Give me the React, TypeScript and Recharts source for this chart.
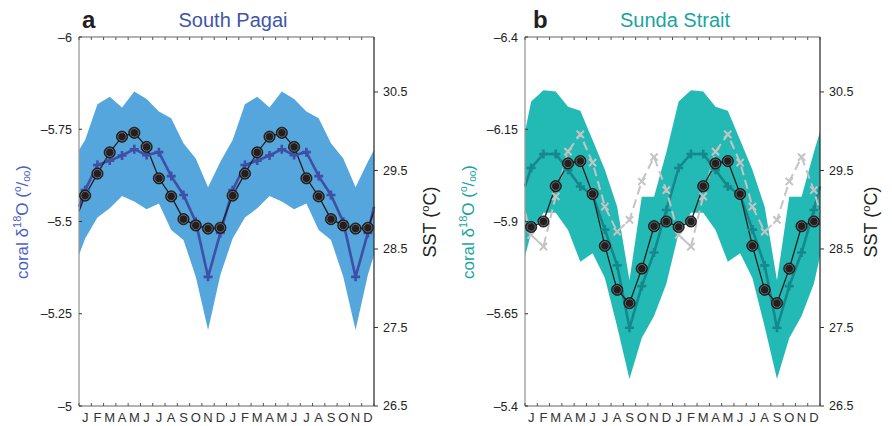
import React from "react";
import { ComposedChart, Area, Line, XAxis, YAxis } from "recharts";

const months = ["J", "F", "M", "A", "M", "J", "J", "A", "S", "O", "N", "D"];
const monthTicks = Array.from({ length: 25 }, (_, i) => i);
const sstTicks = [26.5, 27.5, 28.5, 29.5, 30.5];
const sstDomain = [26.5, 31.2];

// panel a: South Pagai
const pagaiCoral = [-5.585, -5.653, -5.665, -5.679, -5.696, -5.68, -5.688, -5.623, -5.572, -5.499, -5.35, -5.469];
const pagaiUpper = [-5.721, -5.818, -5.838, -5.809, -5.852, -5.832, -5.798, -5.78, -5.712, -5.671, -5.593, -5.662];
const pagaiLower = [-5.454, -5.511, -5.536, -5.569, -5.554, -5.533, -5.549, -5.477, -5.45, -5.35, -5.206, -5.355];
const pagaiSst = [29.18, 29.46, 29.73, 29.93, 29.98, 29.8, 29.4, 29.17, 28.88, 28.8, 28.76, 28.77];
const pagaiEdge = { coral: -5.54, upper: -5.694, lower: -5.409, sst: 28.98 };
const pagaiTicks = [-6, -5.75, -5.5, -5.25, -5];

// panel b: Sunda Strait
const sundaCoral = [-6.045, -6.083, -6.083, -6.04, -5.995, -5.972, -5.878, -5.781, -5.612, -5.725, -5.816, -5.931];
const sundaUpper = [-6.225, -6.256, -6.252, -6.211, -6.2, -6.121, -6.04, -5.94, -5.741, -5.967, -5.967, -6.088];
const sundaLower = [-5.869, -5.924, -5.924, -5.877, -5.791, -5.814, -5.747, -5.615, -5.473, -5.584, -5.644, -5.731];
const sundaSst = [28.78, 28.85, 29.3, 29.59, 29.62, 29.2, 28.54, 27.98, 27.81, 28.25, 28.79, 28.85];
const sundaSstAlt = [28.68, 28.53, 29.17, 29.74, 29.96, 29.6, 29.04, 28.72, 28.87, 29.36, 29.67, 29.25];
const sundaEdge = { coral: -5.995, upper: -6.143, lower: -5.805, sst: 28.81, sstAlt: 28.97 };
const sundaTicks = [-6.4, -6.15, -5.9, -5.65, -5.4];

const FONT = "'Liberation Sans', Arial, Helvetica, sans-serif";
const HALF_MONTH = (446 - 79 - 72) / 48;

function buildRows(coral: number[], upper: number[], lower: number[], sst: number[], edge: any, sstAlt?: number[]) {
  const edgeRow = (x: number) => ({
    x,
    edge: true,
    coral: edge.coral,
    band: [edge.lower, edge.upper],
    sst: edge.sst,
    sstAlt: sstAlt ? edge.sstAlt : undefined,
  });
  const rows: any[] = [edgeRow(0)];
  for (let k = 0; k < 24; k++) {
    const m = k % 12;
    rows.push({
      x: k + 0.5,
      coral: coral[m],
      band: [lower[m], upper[m]],
      sst: sst[m],
      sstAlt: sstAlt ? sstAlt[m] : undefined,
    });
  }
  rows.push(edgeRow(24));
  return rows;
}

const pagaiRows = buildRows(pagaiCoral, pagaiUpper, pagaiLower, pagaiSst, pagaiEdge);
const sundaRows = buildRows(sundaCoral, sundaUpper, sundaLower, sundaSst, sundaEdge, sundaSstAlt);

const plusDot = (color: string) => (p: any) => {
  const { cx, cy, payload, index } = p;
  if (!payload || payload.edge || cx == null || cy == null) return <g key={`p${index}`} />;
  return (
    <path
      key={`p${index}`}
      d={`M${cx - 4.5},${cy}H${cx + 4.5}M${cx},${cy - 4.5}V${cy + 4.5}`}
      stroke={color}
      strokeWidth={2.6}
      fill="none"
    />
  );
};

const crossDot = (p: any) => {
  const { cx, cy, payload, index } = p;
  if (!payload || payload.edge || cx == null || cy == null) return <g key={`x${index}`} />;
  const s = 3.6;
  return (
    <path
      key={`x${index}`}
      d={`M${cx - s},${cy - s}L${cx + s},${cy + s}M${cx - s},${cy + s}L${cx + s},${cy - s}`}
      stroke="#c4c4c4"
      strokeWidth={2}
      fill="none"
    />
  );
};

const circleDot = (p: any) => {
  const { cx, cy, payload, index } = p;
  if (!payload || payload.edge || cx == null || cy == null) return <g key={`c${index}`} />;
  return (
    <g key={`c${index}`}>
      <circle cx={cx} cy={cy} r={5.6} fill="#231f20" stroke="#111" strokeWidth={0.8} />
      <circle cx={cx} cy={cy} r={4.2} fill="none" stroke="#8a8a8a" strokeWidth={0.7} />
    </g>
  );
};

function BottomTick(props: any) {
  const { x, y, payload } = props;
  const v = payload.value;
  return (
    <g>
      <line x1={x} y1={y} x2={x} y2={y - 3} stroke="#555" strokeWidth={1} />
      {v < 24 && (
        <text x={x + HALF_MONTH} y={y + 16} textAnchor="middle" fontSize={13} fill="#333" fontFamily={FONT}>
          {months[v % 12]}
        </text>
      )}
    </g>
  );
}

function TopTick(props: any) {
  const { x, y } = props;
  return <line x1={x} y1={y} x2={x} y2={y + 3} stroke="#555" strokeWidth={1} />;
}

function LeftTick(props: any) {
  const { x, y, payload } = props;
  return (
    <g>
      <line x1={x} y1={y} x2={x + 3} y2={y} stroke="#333" strokeWidth={1} />
      <text x={x - 7} y={y} dy="0.36em" textAnchor="end" fontSize={12.5} fill="#222" fontFamily={FONT}>
        {String(payload.value).replace("-", "\u2013")}
      </text>
    </g>
  );
}

function Panel(props: {
  rows: any[];
  ticks: number[];
  bandColor: string;
  lineColor: string;
  showAlt?: boolean;
}) {
  const { rows, ticks, bandColor, lineColor, showAlt } = props;
  return (
    <ComposedChart width={446} height={426} data={rows} margin={{ top: 36, right: 0, bottom: 0, left: 0 }}>
      <XAxis
        xAxisId="b"
        dataKey="x"
        type="number"
        domain={[0, 24]}
        ticks={monthTicks}
        interval={0}
        height={20}
        tickSize={0}
        tickMargin={0}
        tickLine={false}
        tick={<BottomTick />}
        axisLine={{ stroke: "#999", strokeWidth: 1.3 }}
      />
      <XAxis
        xAxisId="t"
        orientation="top"
        dataKey="x"
        type="number"
        domain={[0, 24]}
        ticks={monthTicks}
        interval={0}
        height={1}
        tickSize={0}
        tickMargin={0}
        tickLine={false}
        tick={<TopTick />}
        axisLine={{ stroke: "#999", strokeWidth: 1.3 }}
      />
      <YAxis
        yAxisId="d"
        width={79}
        domain={[ticks[0], ticks[ticks.length - 1]]}
        reversed
        ticks={ticks}
        interval={0}
        tickSize={0}
        tickMargin={0}
        tickLine={false}
        tick={<LeftTick />}
        axisLine={{ stroke: "#999", strokeWidth: 1.3 }}
        allowDataOverflow
      />
      <YAxis
        yAxisId="s"
        orientation="right"
        width={72}
        domain={sstDomain}
        ticks={sstTicks}
        interval={0}
        tickSize={4}
        tickMargin={5}
        tickLine={{ stroke: "#333" }}
        tick={{ fontSize: 12.5, fill: "#222", fontFamily: FONT }}
        axisLine={{ stroke: "#333", strokeWidth: 1.3 }}
        allowDataOverflow
      />
      <Area
        xAxisId="b"
        yAxisId="d"
        dataKey="band"
        type="linear"
        fill={bandColor}
        fillOpacity={1}
        stroke="none"
        dot={false}
        activeDot={false}
        isAnimationActive={false}
      />
      <Line
        xAxisId="b"
        yAxisId="d"
        dataKey="coral"
        type="linear"
        stroke={lineColor}
        strokeWidth={2.6}
        dot={plusDot(lineColor)}
        activeDot={false}
        isAnimationActive={false}
      />
      {showAlt && (
        <Line
          xAxisId="b"
          yAxisId="s"
          dataKey="sstAlt"
          type="linear"
          stroke="#c4c4c4"
          strokeWidth={2}
          strokeDasharray="9 5"
          dot={crossDot}
          activeDot={false}
          isAnimationActive={false}
        />
      )}
      <Line
        xAxisId="b"
        yAxisId="s"
        dataKey="sst"
        type="linear"
        stroke="#231f20"
        strokeWidth={1.3}
        dot={circleDot}
        activeDot={false}
        isAnimationActive={false}
      />
    </ComposedChart>
  );
}

function CoralLabel({ x, color }: { x: number; color: string }) {
  return (
    <text transform={`translate(${x},222) rotate(-90)`} textAnchor="middle" fontSize={17} fill={color} fontFamily={FONT}>
      coral δ
      <tspan fontSize={11} dy={-7}>18</tspan>
      <tspan dy={7}>O (</tspan>
      <tspan fontSize={10} dy={-7}>o</tspan>
      <tspan dy={7}>/</tspan>
      <tspan fontSize={10} dy={2}>oo</tspan>
      <tspan dy={-2}>)</tspan>
    </text>
  );
}

function SstLabel({ x }: { x: number }) {
  return (
    <text transform={`translate(${x},222) rotate(-90)`} textAnchor="middle" fontSize={18} fill="#231f20" fontFamily={FONT}>
      SST (
      <tspan fontSize={11} dy={-7}>o</tspan>
      <tspan dy={7}>C)</tspan>
    </text>
  );
}

export default function App() {
  return (
    <div style={{ position: "absolute", left: 0, top: 0, width: 892, height: 426, background: "#fff" }}>
      <div style={{ position: "absolute", left: 0, top: 0 }}>
        <Panel rows={pagaiRows} ticks={pagaiTicks} bandColor="#55a6dc" lineColor="#3f4fa6" />
      </div>
      <div style={{ position: "absolute", left: 446, top: 0 }}>
        <Panel rows={sundaRows} ticks={sundaTicks} bandColor="#23bab6" lineColor="#15888b" showAlt />
      </div>
      <svg width={892} height={426} style={{ position: "absolute", left: 0, top: 0, pointerEvents: "none" }}>
        <text x={82} y={28} fontSize={24} fontWeight="bold" fill="#231f20" fontFamily={FONT}>a</text>
        <text x={233} y={27} fontSize={20} textAnchor="middle" fill="#3f55a9" fontFamily={FONT}>South Pagai</text>
        <text x={533} y={28} fontSize={24} fontWeight="bold" fill="#231f20" fontFamily={FONT}>b</text>
        <text x={675} y={27} fontSize={20} textAnchor="middle" fill="#17a5a0" fontFamily={FONT}>Sunda Strait</text>
        <CoralLabel x={28} color="#4a62c4" />
        <SstLabel x={436} />
        <CoralLabel x={474} color="#17a5a0" />
        <SstLabel x={877} />
      </svg>
    </div>
  );
}
